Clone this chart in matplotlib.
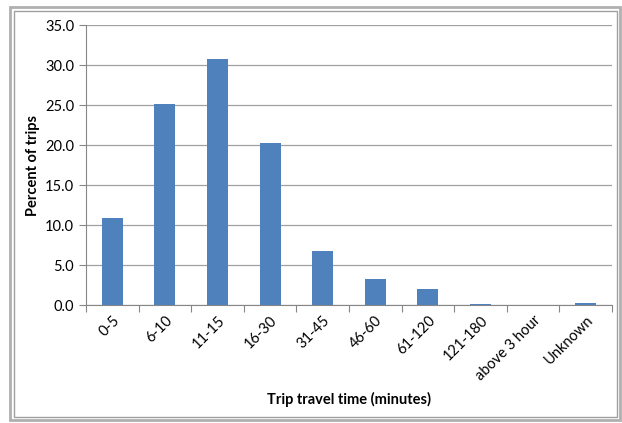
import numpy as np
import matplotlib.pyplot as plt
from matplotlib.patches import Rectangle

categories = ["0-5", "6-10", "11-15", "16-30", "31-45", "46-60",
              "61-120", "121-180", "above 3 hour", "Unknown"]
percent_trips = [10.9, 25.1, 30.7, 20.3, 6.7, 3.3, 2.0, 0.15, 0.0, 0.2]

plt.rcParams["font.family"] = ["Lato", "DejaVu Sans"]

W, H = 622, 423
fig = plt.figure(figsize=(W / 100, H / 100), dpi=100)
ax = fig.add_axes([86 / W, 1 - 305 / H, (612 - 86) / W, (305 - 25) / H])

x = np.arange(len(categories))
ax.bar(x, percent_trips, width=0.4, color="#4f81bd", zorder=3)

ax.set_xlim(-0.5, len(categories) - 0.5)
ax.set_ylim(0, 35)
ax.set_yticks(np.arange(0, 35.1, 5))
ax.set_yticklabels([f"{v:.1f}" for v in np.arange(0, 35.1, 5)], fontsize=10.5)
ax.yaxis.grid(True, color="#a0a0a0", linewidth=0.9, zorder=0)

ax.set_xticks(np.arange(-0.5, len(categories), 1), minor=False)
ax.set_xticklabels([])
ax.set_xticks(x, minor=True)
ax.set_xticklabels(categories, minor=True, rotation=45, ha="right",
                   rotation_mode="anchor", fontsize=10.5)
ax.tick_params(axis="x", which="minor", length=0, pad=6)
ax.tick_params(axis="x", which="major", length=5, color="#868686", direction="out")
ax.tick_params(axis="y", length=5, color="#868686", direction="out")

for side in ["top", "right"]:
    ax.spines[side].set_visible(False)
for side in ["left", "bottom"]:
    ax.spines[side].set_color("#868686")

ax.set_ylabel("Percent of trips", fontsize=10.5, fontweight="bold", labelpad=4)
fig.text(349 / W, 1 - 399 / H, "Trip travel time (minutes)", fontsize=10.5,
         fontweight="bold", ha="center", va="center")

# double grey frame around chart area
fig.patches.append(Rectangle((10 / W, 1 - 420 / H), 610 / W, 413 / H,
                             transform=fig.transFigure, fill=False,
                             edgecolor="#b0b0b0", linewidth=2))
fig.patches.append(Rectangle((13.5 / W, 1 - 416.5 / H), 603 / W, 405.5 / H,
                             transform=fig.transFigure, fill=False,
                             edgecolor="#a0a0a0", linewidth=1))

fig.savefig("out.png", dpi=100)
